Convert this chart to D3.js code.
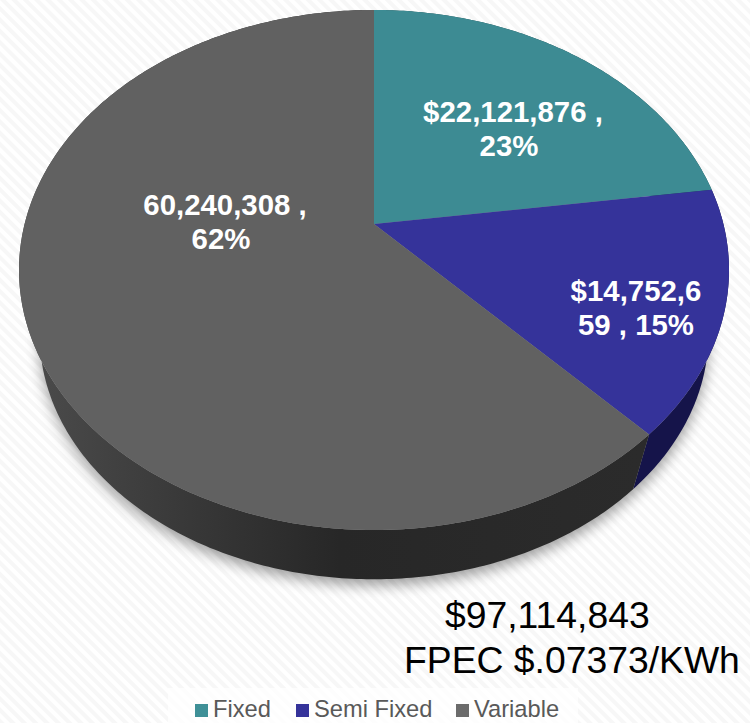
<!DOCTYPE html>
<html lang="en">
<head>
<meta charset="UTF-8">
<title>FPEC cost split</title>
<script src="https://cdn.jsdelivr.net/npm/d3@7/dist/d3.min.js"></script>
<style>
    html, body { margin: 0; padding: 0; background: #fff; }
    svg { display: block; font-family: "Liberation Sans", Arial, sans-serif; }
</style>
</head>
<body>
<div id="chart"></div>
<script>
    // values
    const categories = ["Fixed", "Semi Fixed", "Variable"];
    const values = [22121876, 14752659, 60240308];
    const labelLines = [
        ["$22,121,876 ,", "23%"],
        ["$14,752,6", "59 , 15%"],
        ["60,240,308 ,", "62%"]
    ];
    const titleLines = ["$97,114,843", "FPEC $.07373/KWh"];

    const width = 750, height = 723;
    const topColors = ["#3d8b93", "#35339a", "#616161"];
    const wallColors = ["#1f4a4f", "#15144a", "url(#wallGrey)"];
    const swatchColors = ["#3f9097", "#35339a", "#6b6b6b"];

    const svg = d3.select("#chart").append("svg")
        .attr("width", width)
        .attr("height", height);
    const defs = svg.append("defs");

    // faint diagonal background stripes
    const stripes = defs.append("pattern")
        .attr("id", "stripes")
        .attr("patternUnits", "userSpaceOnUse")
        .attr("width", 8)
        .attr("height", 8)
        .attr("patternTransform", "rotate(-45)");
    stripes.append("rect").attr("width", 8).attr("height", 8).attr("fill", "#ffffff");
    stripes.append("rect").attr("width", 4).attr("height", 8).attr("fill", "#f7f7f7");

    const wallGrey = defs.append("linearGradient")
        .attr("id", "wallGrey")
        .attr("gradientUnits", "userSpaceOnUse")
        .attr("x1", 40).attr("x2", 640).attr("y1", 0).attr("y2", 0);
    [[0, "#4a4a4a"], [0.25, "#383838"], [0.5, "#272727"], [1, "#2b2b2b"]].forEach(s => {
        wallGrey.append("stop").attr("offset", s[0]).attr("stop-color", s[1]);
    });

    defs.append("filter")
        .attr("id", "blur")
        .attr("x", "-10%").attr("y", "-10%").attr("width", "120%").attr("height", "120%")
        .append("feGaussianBlur").attr("stdDeviation", 7);

    svg.append("rect").attr("width", width).attr("height", height).attr("fill", "url(#stripes)");

    // tilted disc: angle on the pie -> screen point, with perspective so the
    // apex sits above the middle of the ellipse
    const apexX = 374, apexY = 224;
    const tilt = 0.1769, radiusX = 349.4, radiusY = 251.9;
    // the bottom rim shrinks towards a vanishing point under the pie
    const vanishY = 1379, depthScale = 0.942;

    function topPoint(angle, r = 1) {
        const u = r * Math.sin(angle), v = r * Math.cos(angle);
        const w = 1 + tilt * v;
        return [apexX + radiusX * u / w, apexY - radiusY * v / w];
    }
    function bottomPoint(angle) {
        const p = topPoint(angle);
        return [apexX + (p[0] - apexX) * depthScale, vanishY + (p[1] - vanishY) * depthScale];
    }
    function sweep(a0, a1) {
        const n = Math.ceil((a1 - a0) * 80);
        return d3.range(n + 1).map(i => a0 + (a1 - a0) * i / n);
    }

    const line = d3.line().curve(d3.curveLinear);
    const slices = d3.pie().sort(null)(values);

    // soft shadow under the pie
    svg.append("path")
        .attr("d", line(sweep(0, 2 * Math.PI).map(bottomPoint)) + "Z")
        .attr("transform", "translate(0,6)")
        .attr("fill", "#000")
        .attr("opacity", 0.38)
        .attr("filter", "url(#blur)");

    // side walls first, the top faces paint over the back part of them
    svg.append("g").selectAll("path")
        .data(slices)
        .join("path")
        .attr("fill", (d, i) => wallColors[i])
        .attr("d", d => {
            const a = sweep(d.startAngle, d.endAngle);
            return line(a.map(t => topPoint(t)).concat(a.slice().reverse().map(bottomPoint))) + "Z";
        });

    svg.append("g").selectAll("path")
        .data(slices)
        .join("path")
        .attr("fill", (d, i) => topColors[i])
        .attr("d", d => line([[apexX, apexY]].concat(sweep(d.startAngle, d.endAngle).map(t => topPoint(t)))) + "Z");

    // data labels
    const labelAnchors = [[513, 122], [636, 301], [225, 215]];
    const labels = svg.append("g")
        .attr("fill", "#fff")
        .attr("font-weight", "bold")
        .attr("font-size", 29.4)
        .attr("text-anchor", "middle");
    labelLines.forEach((lines, i) => {
        lines.forEach((txt, j) => {
            labels.append("text")
                .attr("x", labelAnchors[i][0] - (i !== 1 && j === 1 ? 4 : 0))
                .attr("y", labelAnchors[i][1] + j * 34)
                .text(txt);
        });
    });

    // total + rate
    svg.append("text").attr("x", 445).attr("y", 628)
        .attr("font-size", 37.3).attr("fill", "#000").text(titleLines[0]);
    svg.append("text").attr("x", 404).attr("y", 673)
        .attr("font-size", 37.3).attr("fill", "#000").text(titleLines[1]);

    // legend
    svg.append("rect")
        .attr("x", 168).attr("y", 688).attr("width", 410).attr("height", 35)
        .attr("fill", "#fff").attr("opacity", 0.75);
    const legendX = d3.scaleOrdinal().domain(categories).range([195, 296, 456]);
    const legend = svg.append("g").selectAll("g")
        .data(categories)
        .join("g")
        .attr("transform", d => `translate(${legendX(d)},704)`);
    legend.append("rect")
        .attr("width", 13).attr("height", 13)
        .attr("fill", (d, i) => swatchColors[i]);
    legend.append("text")
        .attr("x", 18).attr("y", 13)
        .attr("font-size", 23.7).attr("fill", "#595959")
        .text(d => d);
</script>
</body>
</html>
